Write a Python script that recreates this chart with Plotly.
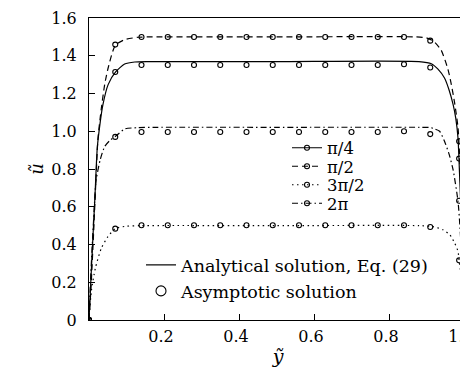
import plotly.graph_objects as go

# ---------------- data ----------------
# analytical solution curves (Eq. 29)
x_pi4 = [0, 0.004, 0.01, 0.016, 0.022, 0.03, 0.037, 0.051, 0.071, 0.095, 0.122, 0.16, 0.5,
         0.88, 0.913, 0.93, 0.948, 0.96, 0.971, 0.978, 0.984, 0.988, 0.992, 0.996, 1.0]
u_pi4 = [0, 0.17, 0.42, 0.66, 0.91, 1.05, 1.14, 1.247, 1.314, 1.356, 1.367, 1.369, 1.369,
         1.369, 1.358, 1.33, 1.282, 1.22, 1.141, 1.07, 0.964, 0.78, 0.58, 0.32, 0]

x_pi2 = [0, 0.005, 0.012, 0.018, 0.024, 0.033, 0.042, 0.051, 0.07, 0.095, 0.131, 0.17, 0.5,
         0.87, 0.9, 0.92, 0.939, 0.957, 0.966, 0.975, 0.984, 0.988, 0.992, 0.996, 1.0]
u_pi2 = [0, 0.16, 0.45, 0.72, 0.964, 1.123, 1.25, 1.335, 1.455, 1.485, 1.498, 1.5, 1.5,
         1.5, 1.495, 1.475, 1.43, 1.33, 1.25, 1.15, 1.02, 0.88, 0.66, 0.36, 0]

x_3pi2 = [0, 0.006, 0.017, 0.033, 0.05, 0.07, 0.1, 0.14, 0.5, 0.88, 0.917, 0.944, 0.962,
          0.975, 0.984, 0.987, 0.993, 0.997, 1.0]
u_3pi2 = [0, 0.15, 0.275, 0.381, 0.44, 0.484, 0.497, 0.5, 0.5, 0.5, 0.495, 0.478, 0.452,
          0.408, 0.364, 0.316, 0.222, 0.099, 0]

x_2pi = [0, 0.005, 0.012, 0.019, 0.03, 0.042, 0.055, 0.07, 0.095, 0.13, 0.18, 0.5, 0.88,
         0.91, 0.921, 0.935, 0.948, 0.96, 0.971, 0.984, 0.99, 0.995, 1.0]
u_2pi = [0, 0.25, 0.52, 0.74, 0.85, 0.92, 0.95, 0.972, 1.012, 1.019, 1.021, 1.021, 1.021,
         1.02, 1.013, 1.0, 0.947, 0.88, 0.795, 0.629, 0.47, 0.27, 0]

# asymptotic solution (open circles)
x_asym = [0, 0.07, 0.14, 0.21, 0.28, 0.35, 0.42, 0.49, 0.56, 0.63, 0.70, 0.77, 0.84, 0.91, 0.987]
a_pi4 = [0, 1.314, 1.351, 1.351, 1.351, 1.351, 1.351, 1.351, 1.351, 1.351, 1.351, 1.351, 1.355, 1.338, 0.855]
a_pi2 = [0, 1.459, 1.499, 1.499, 1.499, 1.499, 1.499, 1.499, 1.499, 1.499, 1.499, 1.499, 1.499, 1.48, 0.947]
a_3pi2 = [0, 0.484, 0.502, 0.502, 0.502, 0.502, 0.502, 0.502, 0.502, 0.502, 0.502, 0.502, 0.502, 0.493, 0.316]
a_2pi = [0, 0.970, 0.996, 0.996, 0.996, 0.996, 0.996, 0.996, 0.996, 0.996, 0.996, 0.996, 1.0, 0.985, 0.632]

labels = ["π/4", "π/2", "3π/2", "2π"]
dashes = ["solid", "6px,4px", "1.5px,3.5px", "6px,3px,1.5px,3px"]
type_labels = ["Analytical solution, Eq. (29)", "Asymptotic solution"]

y_ticks = [0, 0.2, 0.4, 0.6, 0.8, 1.0, 1.2, 1.4, 1.6]
y_ticktext = ["0", "0.2", "0.4", "0.6", "0.8", "1.0", "1.2", "1.4", "1.6"]
x_ticks = [0.2, 0.4, 0.6, 0.8, 1.0]
x_ticktext = ["0.2", "0.4", "0.6", "0.8", "1.0"]

FONT = "DejaVu Serif"
LW = 1.2
PLOT_L, PLOT_W = 81, 378
PLOT_TOP, PLOT_H = 10, 302
LEG_DY = 0


def py2paper(py):
    return 1 - (py + LEG_DY - PLOT_TOP) / PLOT_H


def px2paper(px):
    return (px - PLOT_L) / PLOT_W


fig = go.Figure()

curves = [(x_pi4, u_pi4), (x_pi2, u_pi2), (x_3pi2, u_3pi2), (x_2pi, u_2pi)]
asym = [a_pi4, a_pi2, a_3pi2, a_2pi]

for (xs, us), d in zip(curves, dashes):
    fig.add_trace(go.Scatter(x=xs, y=us, mode="lines", showlegend=False,
                             line=dict(color="black", width=LW, dash=d, shape="spline", smoothing=0.6),
                             hoverinfo="skip"))
for a in asym:
    fig.add_trace(go.Scatter(x=x_asym, y=a, mode="markers", showlegend=False,
                             marker=dict(symbol="circle-open", size=5, color="black",
                                         line=dict(width=1.1, color="black"))))

# one single-entry legend per item so the spacing can follow the reference
legend_layout = {}
case_rows = [140, 158.5, 177, 195.5]
for i, (lab, d) in enumerate(zip(labels, dashes)):
    lname = "legend" if i == 0 else f"legend{i + 1}"
    fig.add_trace(go.Scatter(x=[None], y=[None], mode="lines+markers", name=lab, legend=lname,
                             line=dict(color="black", width=LW, dash=d),
                             marker=dict(symbol="circle-open", size=5, color="black",
                                         line=dict(width=1.1, color="black"))))
    legend_layout[lname] = dict(x=px2paper(279), y=py2paper(case_rows[i]),
                                xanchor="left", yanchor="middle",
                                bgcolor="rgba(0,0,0,0)", font=dict(family=FONT, size=16.5),
                                itemwidth=30)

type_rows = [257, 283]
fig.add_trace(go.Scatter(x=[None], y=[None], mode="lines", name=type_labels[0],
                         legend="legend5", line=dict(color="black", width=LW)))
fig.add_trace(go.Scatter(x=[None], y=[None], mode="markers", name=type_labels[1],
                         legend="legend6",
                         marker=dict(symbol="circle-open", size=10, color="black",
                                     line=dict(width=1.1, color="black"))))
for j, lname in enumerate(["legend5", "legend6"]):
    legend_layout[lname] = dict(x=px2paper(133), y=py2paper(type_rows[j]),
                                xanchor="left", yanchor="middle",
                                bgcolor="rgba(0,0,0,0)", font=dict(family=FONT, size=17.5),
                                itemwidth=30)

axis_common = dict(showline=True, linecolor="black", linewidth=1.2, mirror=True,
                   ticks="inside", ticklen=6, tickwidth=1.2, tickcolor="black",
                   showgrid=False, zeroline=False, automargin=False,
                   ticklabeloverflow="allow",
                   tickfont=dict(family=FONT, size=16, color="black"))

fig.update_layout(
    width=468, height=370,
    margin=dict(l=PLOT_L, r=468 - PLOT_L - PLOT_W, t=PLOT_TOP, b=370 - PLOT_TOP - PLOT_H),
    paper_bgcolor="white", plot_bgcolor="white",
    font=dict(family=FONT, size=16, color="black"),
    xaxis=dict(range=[0, 1.008], tickvals=x_ticks, ticktext=x_ticktext,
               ticklabelstandoff=2, ticklabelshift=-3,
               title=dict(text="<i>ỹ</i>", font=dict(family=FONT, size=19), standoff=4),
               **axis_common),
    yaxis=dict(range=[0, 1.6], tickvals=y_ticks, ticktext=y_ticktext,
               ticklabelstandoff=8,
               title=dict(text="<i>ũ</i>", font=dict(family=FONT, size=18), standoff=2),
               **axis_common),
    **legend_layout,
)

fig.write_html("out.html")
